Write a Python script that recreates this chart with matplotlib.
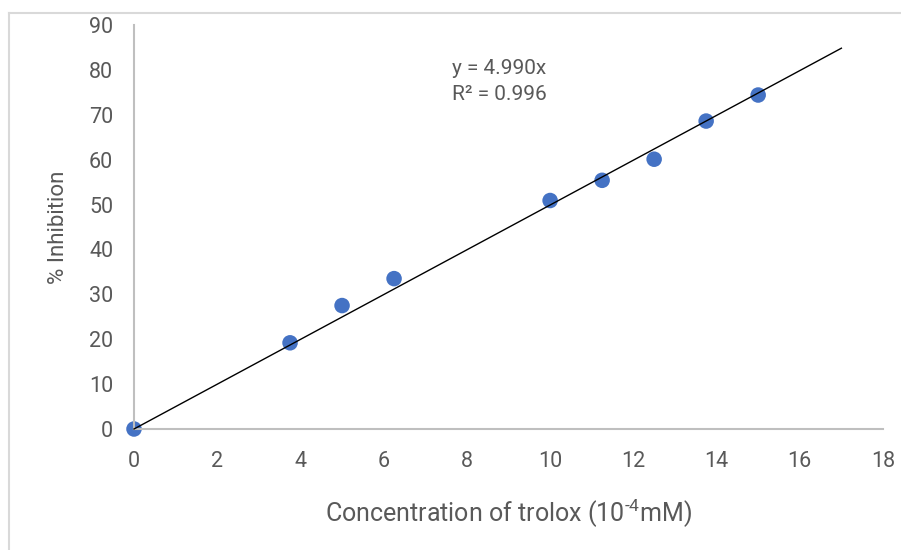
import matplotlib
matplotlib.use('Agg')
import matplotlib.pyplot as plt
import numpy as np

# data
conc = [0, 3.75, 5, 6.25, 10, 11.25, 12.5, 13.75, 15]
inhibition = [0, 19.2, 27.5, 33.5, 50.9, 55.4, 60.1, 68.6, 74.4]
slope = 4.990
r2 = 0.996
x_ticks = list(range(0, 19, 2))
y_ticks = list(range(0, 91, 10))

plt.rcParams['font.family'] = ['Roboto', 'DejaVu Sans']
plt.rcParams['mathtext.fontset'] = 'custom'
plt.rcParams['mathtext.rm'] = 'Roboto'
plt.rcParams['mathtext.default'] = 'rm'
grey = '#595959'

fig = plt.figure(figsize=(9.01, 5.5), dpi=100)
ax = fig.add_axes([134/901, 1 - 429/550, (883 - 134)/901, (429 - 25)/550])

# trendline
xl = np.array([0, 17])
ax.plot(xl, slope * xl, color='black', lw=1.0, zorder=3, clip_on=False)
ax.scatter(conc, inhibition, s=125, color='#4472C4', zorder=2, edgecolors='none', clip_on=False)

ax.set_xlim(0, 18)
ax.set_ylim(0, 90)
ax.set_xticks(x_ticks)
ax.set_yticks(y_ticks)
ax.tick_params(length=0, labelsize=15.5, labelcolor=grey)
ax.tick_params(axis='x', pad=16)
ax.tick_params(axis='y', pad=15)
for s in ['top', 'right']:
    ax.spines[s].set_visible(False)
for s in ['left', 'bottom']:
    ax.spines[s].set_color('#BFBFBF')
    ax.spines[s].set_linewidth(1.5)

ax.set_xlabel('Concentration of trolox (10$^{\u2010 4}$mM)', fontsize=18, color=grey, labelpad=18)
ax.set_ylabel('% Inhibition', fontsize=16, color=grey, labelpad=14)

ax.text(452/901, 1 - 68/550, 'y = 4.990x', transform=fig.transFigure,
        fontsize=15, color=grey, va='center', ha='left')
ax.text(452/901, 1 - 95/550, 'R² = 0.996', transform=fig.transFigure,
        fontsize=15, color=grey, va='center', ha='left')

# chart area border
fig.add_artist(plt.Line2D([9/901, 9/901], [0, 1 - 13/550], color='#D9D9D9', lw=1.5,
                          transform=fig.transFigure))
fig.add_artist(plt.Line2D([9/901, 1], [1 - 13/550, 1 - 13/550], color='#D9D9D9', lw=1.5,
                          transform=fig.transFigure))

fig.savefig('out.png', dpi=100)
